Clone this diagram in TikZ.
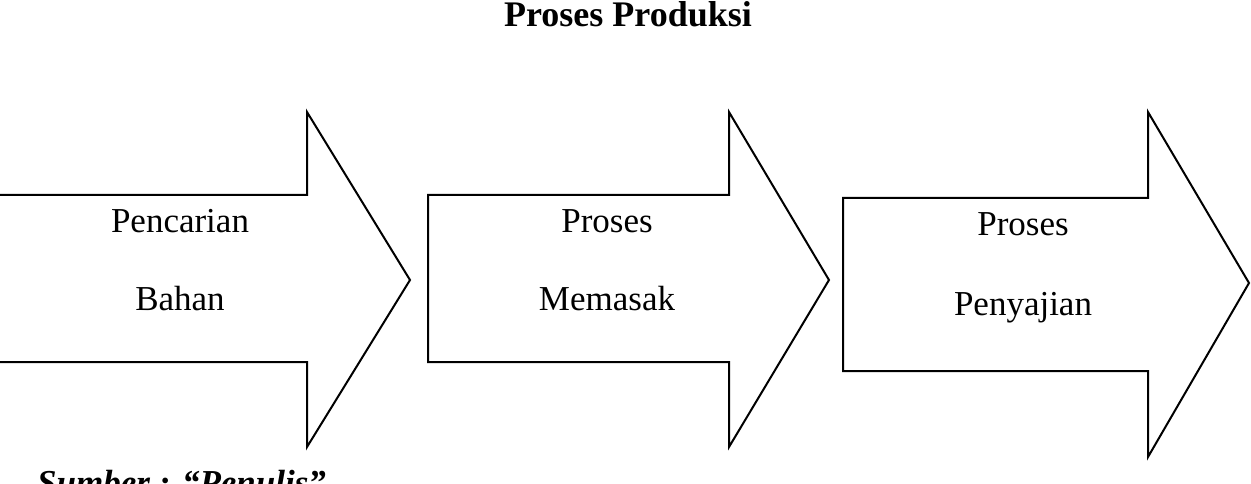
\documentclass[tikz,border=0pt]{standalone}
\usepackage{fontspec}
\setmainfont{Liberation Serif}
\begin{document}
\begin{tikzpicture}[x=1pt,y=-1pt,
  arrowshape/.style={draw=black,line width=2pt,line join=miter,fill=white},
  lbl/.style={inner sep=0pt,anchor=base,font=\fontsize{35}{40}\selectfont},
  ttl/.style={inner sep=0pt,anchor=base,font=\fontsize{36}{40}\selectfont\bfseries}]
\useasboundingbox (0,0) rectangle (1251,484);
\clip (0,0) rectangle (1251,484);
% arrow 1 (left end outside picture)
\draw[arrowshape] (-5,195) -- (307,195) -- (307,112) -- (410,280) -- (307,447) -- (307,362) -- (-5,362);
% arrow 2
\draw[arrowshape] (428,195) -- (729,195) -- (729,112) -- (829,280) -- (729,447) -- (729,362) -- (428,362) -- cycle;
% arrow 3
\draw[arrowshape] (843,198) -- (1148,198) -- (1148,112) -- (1249,283) -- (1148,457) -- (1148,371) -- (843,371) -- cycle;
\node[ttl] (title) at (628,27) {Proses Produksi};
\node[lbl] (a1) at (180,233) {Pencarian};
\node[lbl] (b1) at (180,310) {Bahan};
\node[lbl] (a2) at (607,233) {Proses};
\node[lbl] (b2) at (607,310) {Memasak};
\node[lbl] (a3) at (1023,236) {Proses};
\node[lbl] (b3) at (1023,315) {Penyajian};
\node[lbl,anchor=base west,font=\fontsize{35}{40}\selectfont\bfseries\itshape] (src) at (37,494) {Sumber : “Penulis”};
\end{tikzpicture}
\end{document}
